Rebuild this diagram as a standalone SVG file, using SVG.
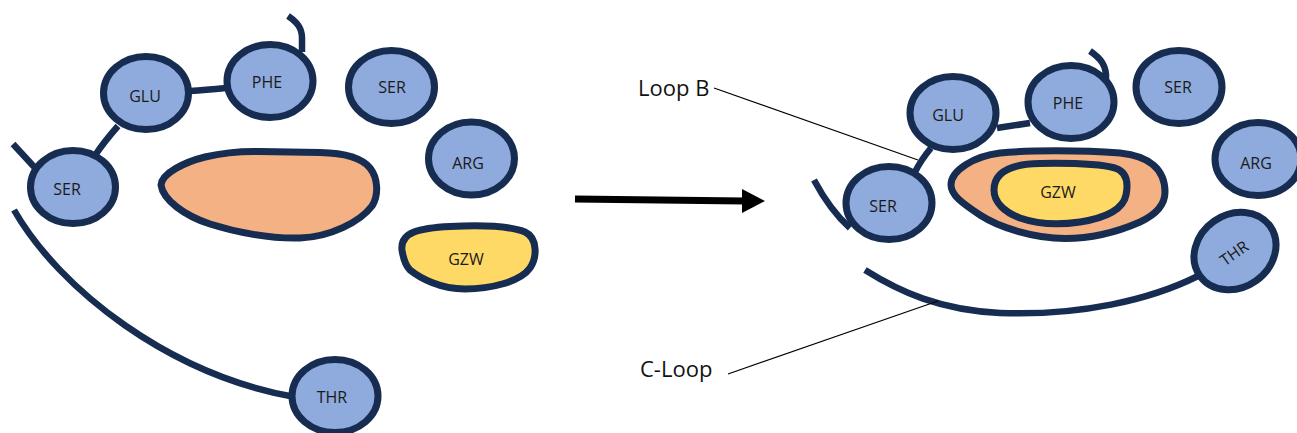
<svg xmlns="http://www.w3.org/2000/svg" width="1297" height="433" viewBox="0 0 1297 433">
  <style>
    .res { fill: #8faadc; stroke: #172c51; stroke-width: 7; }
    .pocket { fill: #f4b183; stroke: #172c51; stroke-width: 7; }
    .lig { fill: #ffd966; stroke: #172c51; stroke-width: 7; }
    .chain { fill: none; stroke: #172c51; stroke-width: 6.5; }
    .lead { fill: none; stroke: #000; stroke-width: 1.2; }
    .lbl { font-family: "Open Sans", "Noto Sans", sans-serif; font-size: 16px; fill: #1a1a1a; text-anchor: middle; }
    .cap { font-family: "Open Sans", "Noto Sans", sans-serif; font-size: 22px; fill: #111; }
  </style>
  <rect width="1297" height="433" fill="#fff"/>

  <!-- backbone segments and loops -->
  <g id="connectors">
    <!-- left state -->
    <path class="chain" d="M13,144 L37,170"/>
    <path class="chain" d="M96,154 Q104,142 118,126"/>
    <path class="chain" d="M190,91 Q205,90 226,88"/>
    <path class="chain" d="M288,16 C297,22 302,28 302,38 L302,52"/>
    <path class="chain" d="M14,210 C60,290 170,375 295,397"/>
    <!-- right state -->
    <path class="chain" d="M814,180 C822,195 832,212 850,228"/>
    <path class="chain" d="M915,172 Q921,160 931,148"/>
    <path class="chain" d="M997,128 L1030,123"/>
    <path class="chain" d="M1090,51 C1100,58 1107,65 1106,80"/>
    <path class="chain" d="M865,270 C900,292 940,310 1000,313 C1080,316 1150,300 1198,276"/>
    <!-- transition arrow -->
    <path d="M575,199 L744,201" stroke="#000" stroke-width="7" fill="none"/>
    <polygon points="742,189 765,201 742,213" fill="#000"/>
    <!-- callout leaders -->
    <path class="lead" d="M714,88 L918,160"/>
    <path class="lead" d="M728,374 L938,301"/>
  </g>

  <!-- left state -->
  <g id="ser-l1"><ellipse class="res" cx="73" cy="187" rx="42.5" ry="36.5"/><text class="lbl" x="67" y="195">SER</text></g>
  <g id="glu-l"><ellipse class="res" cx="146" cy="93" rx="42.5" ry="36.5"/><text class="lbl" x="145" y="102">GLU</text></g>
  <g id="phe-l"><ellipse class="res" cx="270" cy="81" rx="43" ry="36.5"/><text class="lbl" x="267" y="88">PHE</text></g>
  <g id="ser-l2"><ellipse class="res" cx="391.5" cy="87" rx="43" ry="36.5"/><text class="lbl" x="392" y="93">SER</text></g>
  <g id="arg-l"><ellipse class="res" cx="471.5" cy="158.5" rx="43" ry="36.5"/><text class="lbl" x="468" y="169">ARG</text></g>
  <g id="thr-l"><ellipse class="res" cx="335" cy="396" rx="43" ry="36.5"/><text class="lbl" x="332" y="403">THR</text></g>
  <g id="pocket-l">
    <path class="pocket" d="M161,185 C162,173 185,162 205,157 C222,153 240,151 260,151.5 L320,152.5 C345,153 362,158 370,168 C378,178 379,195 372,206 C360,222 330,237 300,238 C270,239 235,232 210,224 C185,216 163,200 161,185 Z"/>
  </g>
  <g id="gzw-l">
    <path class="lig" d="M402,250 C400,232 420,228 450,226.5 C480,225 510,226 525,232 C538,238 537,258 530,268 C520,282 490,289 465,289 C440,289 420,278 410,270 C404,264 403,256 402,250 Z"/>
    <text class="lbl" x="466" y="265">GZW</text>
  </g>

  <!-- right state -->
  <g id="pocket-r">
    <path class="pocket" d="M951,185 C951,170 975,156 1000,153 C1030,150 1080,150 1120,153 C1150,156 1165,170 1165,192 C1165,205 1155,215 1140,222 C1115,233 1090,238.5 1065,238.5 C1035,238.5 1000,228 980,215 C962,203 951,195 951,185 Z"/>
  </g>
  <g id="gzw-r">
    <path class="lig" d="M994,190 C994,172 1010,164 1040,163.5 C1070,163 1100,164 1115,168 C1128,172 1128,185 1126,195 C1123,210 1105,218 1080,222 C1060,225 1040,225 1020,218 C1004,212 994,202 994,190 Z"/>
    <text class="lbl" x="1058" y="198">GZW</text>
  </g>
  <g id="ser-r1"><ellipse class="res" cx="889" cy="203" rx="43" ry="36.5"/><text class="lbl" x="883" y="212">SER</text></g>
  <g id="glu-r"><ellipse class="res" cx="953" cy="113" rx="43" ry="36.5"/><text class="lbl" x="948" y="121">GLU</text></g>
  <g id="phe-r"><ellipse class="res" cx="1071" cy="102" rx="43" ry="36.5"/><text class="lbl" x="1068" y="109">PHE</text></g>
  <g id="ser-r2"><ellipse class="res" cx="1179" cy="87" rx="43" ry="36.5"/><text class="lbl" x="1178" y="93">SER</text></g>
  <g id="arg-r"><ellipse class="res" cx="1258" cy="159" rx="43" ry="36.5"/><text class="lbl" x="1256" y="169">ARG</text></g>
  <g id="thr-r" transform="rotate(-35 1235 251)">
    <ellipse class="res" cx="1235" cy="251" rx="43" ry="36.5"/>
    <text class="lbl" x="1233" y="258">THR</text>
  </g>

  <!-- callout labels -->
  <g id="label-loop-b"><text class="cap" x="638" y="96">Loop B</text></g>
  <g id="label-c-loop"><text class="cap" x="640" y="377">C-Loop</text></g>
</svg>
